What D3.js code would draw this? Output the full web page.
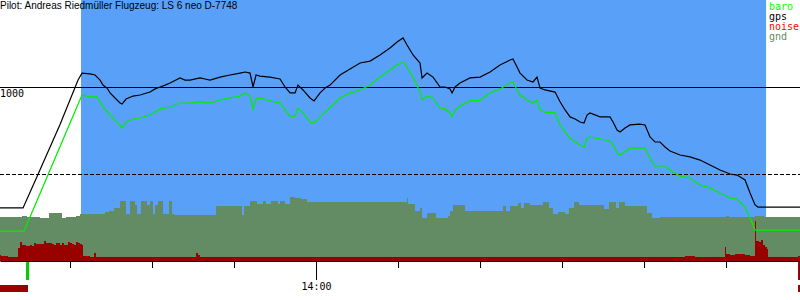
<!DOCTYPE html>
<html>
<head>
<meta charset="utf-8">
<script src="https://cdn.jsdelivr.net/npm/d3@7"></script>
<style>
  html, body {margin:0; padding:0; background:#fff;}
  svg {display:block;}
  .mono {font-family:'DejaVu Sans Mono', monospace;}
</style>
</head>
<body>
<svg id="wrapper" width="800" height="300"></svg>
<script>
// times are minutes after 13:00, altitudes in metres
const timeDomain = [21.46, 119.02];
const flightWindow = [31.34, 114.88];
const takeoffMark = 24.82;
const redMarks = [[21.46, 24.88], [118.78, 119.02]];
const title = 'Pilot: Andreas Riedmüller Flugzeug: LS 6 neo D-7748';
const legendLabels = ['baro', 'gps', 'noise', 'gnd'];
const refLines = [1000, 500];

const gps = [
  [21.46,305],[24.27,305],[25.98,485],[28.78,785],[30.98,1040],[31.46,1080],[32.44,1075],[33.05,1069],
  [33.66,1040],[34.02,1011],[34.51,994],[34.88,966],[35.49,937],[36.10,908],[36.34,902],[36.83,931],
  [37.68,948],[38.54,954],[39.76,971],[40.37,989],[40.98,1000],[41.59,1011],[42.20,1023],[43.41,1052],
  [44.02,1040],[44.63,1040],[45.85,1052],[46.46,1046],[47.07,1040],[48.29,1057],[49.51,1069],[50.73,1080],
  [51.34,1086],[51.95,1080],[52.32,1000],[52.68,1069],[53.17,1063],[54.39,1057],[55.61,1046],[56.22,1000],
  [56.83,966],[57.44,966],[57.80,1011],[58.41,983],[59.27,937],[59.76,920],[60.49,966],[61.10,994],
  [61.71,1011],[62.93,1069],[64.15,1103],[65.37,1138],[66.59,1149],[67.80,1184],[69.02,1224],[69.88,1259],
  [70.61,1282],[71.10,1241],[71.83,1184],[72.68,1138],[72.93,1052],[73.54,1080],[74.27,1057],[75.12,1000],
  [75.73,1000],[76.34,989],[76.59,966],[76.95,1000],[77.56,1023],[78.78,1052],[80.00,1057],[81.22,1086],
  [82.44,1126],[83.66,1155],[84.02,1161],[84.51,1115],[84.88,1080],[85.73,1040],[86.46,1029],[86.95,1057],
  [87.32,994],[87.93,983],[89.15,971],[89.76,915],[90.37,868],[90.98,828],[91.59,816],[92.20,799],
  [92.68,793],[93.05,839],[93.41,851],[94.63,828],[95.85,828],[96.22,799],[96.71,753],[97.07,741],
  [97.68,764],[98.29,782],[99.51,787],[100.12,782],[100.73,713],[101.34,684],[101.95,684],[102.56,655],
  [103.17,632],[104.39,609],[105.61,598],[106.83,580],[108.05,552],[109.27,523],[110.49,500],[111.34,494],
  [112.32,466],[112.93,391],[113.54,322],[113.90,310],[115.37,310],[119.02,310]
];

const baro = [
  [21.46,172],[24.39,172],[31.46,954],[32.44,943],[33.29,943],[33.66,914],[34.02,885],[34.88,839],
  [35.49,810],[36.10,782],[36.34,764],[36.83,799],[37.68,816],[38.54,822],[39.76,839],[40.98,874],
  [42.20,885],[43.41,908],[44.63,908],[45.85,914],[47.07,908],[48.29,925],[49.51,937],[50.73,948],
  [51.34,966],[51.95,948],[52.32,874],[52.68,931],[53.17,937],[54.39,920],[55.61,908],[56.22,868],
  [56.83,833],[57.44,833],[57.80,879],[58.41,851],[59.27,799],[59.76,793],[60.49,828],[61.10,856],
  [61.71,882],[62.93,937],[64.15,966],[65.37,983],[66.59,1011],[67.80,1057],[69.02,1098],[69.88,1126],
  [70.61,1144],[71.10,1115],[71.83,1057],[72.68,971],[72.93,925],[73.54,948],[74.27,937],[75.12,879],
  [75.73,874],[76.34,851],[76.59,828],[76.95,868],[77.56,891],[78.78,920],[80.00,925],[81.22,966],
  [82.44,989],[83.66,1023],[84.02,1029],[84.51,983],[84.88,954],[85.73,925],[86.46,908],[86.95,925],
  [87.32,868],[87.93,856],[89.15,851],[89.76,782],[90.37,741],[90.98,707],[91.59,684],[92.20,667],
  [92.68,655],[93.05,707],[93.41,713],[94.63,701],[95.85,690],[96.22,667],[96.71,621],[97.07,609],
  [97.68,626],[98.29,649],[99.51,649],[100.12,649],[100.73,592],[101.34,546],[101.95,546],[102.56,546],
  [103.17,523],[104.39,488],[105.61,477],[106.83,437],[108.05,420],[109.27,391],[110.49,362],[111.34,356],
  [112.32,310],[112.93,247],[113.54,178],[119.02,178]
];

// ground elevation, each value holds until the next time
const gnd = [
  [21.46,254],[24.15,260],[24.76,253],[26.34,247],[27.44,276],[29.02,247],[29.51,253],[30.73,259],
  [31.22,270],[34.27,282],[34.76,287],[35.37,305],[36.10,345],[36.83,270],[37.32,345],[37.93,322],
  [38.17,270],[38.66,345],[39.39,322],[39.76,345],[40.12,270],[40.37,322],[40.73,345],[41.34,270],
  [42.07,345],[42.44,270],[42.68,264],[47.80,316],[50.98,264],[51.22,316],[51.95,345],[52.80,328],
  [53.54,345],[53.90,328],[54.51,345],[55.37,328],[55.61,345],[56.22,328],[56.83,368],[57.44,362],
  [58.17,356],[58.90,339],[71.10,362],[71.22,328],[72.07,287],[72.68,305],[72.93,247],[73.54,276],
  [74.63,247],[76.10,259],[76.34,287],[76.71,322],[78.17,287],[82.80,316],[83.17,287],[83.66,316],
  [84.63,333],[85.00,305],[85.37,333],[86.10,322],[87.68,339],[88.41,305],[88.90,270],[89.51,282],
  [90.37,270],[90.85,305],[91.46,339],[92.07,322],[95.12,299],[95.73,339],[96.59,305],[96.95,339],
  [97.68,316],[100.37,276],[100.98,247],[101.95,255],[110.00,259],[110.37,253],[113.54,259],[114.63,253],
  [119.02,253]
];

// engine noise level (0..100), each value holds until the next time
const noise = [
  [21.46,13],[21.58,10],[22.44,8],[23.66,26],[23.90,39],[24.15,32],[24.39,32],[24.63,30],[24.88,30],
  [25.12,32],[25.37,30],[25.61,37],[25.85,35],[26.10,35],[26.34,35],[26.59,34],[26.83,41],[27.07,37],
  [27.32,37],[27.56,37],[27.80,35],[28.05,32],[28.29,37],[28.54,37],[28.78,32],[29.02,37],[29.27,33],
  [29.51,32],[29.76,39],[30.00,37],[30.24,35],[30.49,33],[30.73,39],[30.98,37],[31.22,35],[31.46,32],
  [31.59,10],[32.44,8],[32.93,17],[33.17,8],[45.37,17],[45.61,12],[45.85,8],[104.99,11],[106.22,8],
  [109.88,29],[110.00,15],[110.49,13],[111.10,15],[111.71,14],[112.32,12],[112.93,10],[113.54,80],
  [113.66,40],[114.02,38],[114.27,42],[114.51,32],[114.76,28],[115.00,25],[115.12,8],[118.78,10],
  [119.02,10]
];

const width = 800, height = 300;
const axisY = 261;
const t0 = new Date(2019, 5, 15, 13, 0, 0);
function at(m) { return new Date(+t0 + m * 60000); }

let svg = d3.select('#wrapper');

// set ranges
let x = d3.scaleTime().domain(timeDomain.map(at)).range([0, width]);
let y = d3.scaleLinear().domain([0, 1500]).range([axisY, 0]);
let yNoise = d3.scaleLinear().domain([0, 100]).range([axisY, axisY - 50]);

// flight period background
svg.append('rect')
  .attr('x', x(at(flightWindow[0])))
  .attr('y', 0)
  .attr('width', x(at(flightWindow[1])) - x(at(flightWindow[0])))
  .attr('height', axisY)
  .attr('fill', '#59a0f9');

// reference altitude lines
svg.append('line')
  .attr('x1', 0).attr('x2', width)
  .attr('y1', Math.round(y(refLines[0])) + 0.5).attr('y2', Math.round(y(refLines[0])) + 0.5)
  .attr('stroke', '#000');
svg.append('line')
  .attr('x1', 0).attr('x2', width)
  .attr('y1', Math.round(y(refLines[1])) + 0.5).attr('y2', Math.round(y(refLines[1])) + 0.5)
  .attr('stroke', '#000')
  .attr('stroke-dasharray', '4,2');

// ground area
let gndArea = d3.area()
  .curve(d3.curveStepAfter)
  .x(function(d) {return x(at(d[0]));})
  .y0(axisY)
  .y1(function(d) {return y(d[1]);});
svg.append('path')
  .datum(gnd)
  .attr('d', gndArea)
  .attr('fill', '#648c64')
  .attr('shape-rendering', 'crispEdges');

// noise area
let noiseArea = d3.area()
  .curve(d3.curveStepAfter)
  .x(function(d) {return x(at(d[0]));})
  .y0(axisY)
  .y1(function(d) {return yNoise(d[1]);});
svg.append('path')
  .datum(noise)
  .attr('d', noiseArea)
  .attr('fill', '#990000')
  .attr('shape-rendering', 'crispEdges');

// baro and gps lines
let altLine = d3.line()
  .x(function(d) {return x(at(d[0]));})
  .y(function(d) {return y(d[1]);});
svg.append('path')
  .datum(baro)
  .attr('d', altLine)
  .attr('fill', 'none')
  .attr('stroke', '#00ee00')
  .attr('stroke-width', 1.2);
svg.append('path')
  .datum(gps)
  .attr('d', altLine)
  .attr('fill', 'none')
  .attr('stroke', '#000')
  .attr('stroke-width', 1.2);

// draw x-axis
let xAxis = svg.append('g')
  .attr('transform', 'translate(0,' + axisY + ')')
  .call(d3.axisBottom(x)
    .ticks(d3.timeMinute.every(10))
    .tickSize(7)
    .tickSizeOuter(0)
    .tickFormat(''));
xAxis.select('.domain').attr('stroke', '#000');
xAxis.selectAll('.tick line').attr('stroke', '#000');
xAxis.selectAll('.tick')
  .filter(function(d) {return d.getMinutes() === 0;})
  .each(function(d) {
    let t = d3.select(this);
    t.select('line').attr('y2', 19);
    t.select('text')
      .attr('class', 'mono')
      .attr('y', 29)
      .attr('dy', 0)
      .attr('fill', '#000')
      .style('font-size', '10px')
      .text(d3.timeFormat('%H:%M')(d));
  });

// takeoff / engine markers below the axis
svg.append('rect')
  .attr('x', x(at(takeoffMark)) - 1.5)
  .attr('y', axisY + 1)
  .attr('width', 3)
  .attr('height', 18)
  .attr('fill', '#00cc00');
svg.append('rect')
  .attr('x', x(at(redMarks[1][0])))
  .attr('y', axisY + 1)
  .attr('width', x(at(redMarks[1][1])) - x(at(redMarks[1][0])))
  .attr('height', 18)
  .attr('fill', '#990000');
svg.selectAll('.redbar')
  .data(redMarks)
  .enter().append('rect')
  .attr('class', 'redbar')
  .attr('x', function(d) {return x(at(d[0]));})
  .attr('y', 285)
  .attr('width', function(d) {return x(at(d[1])) - x(at(d[0]));})
  .attr('height', 7)
  .attr('fill', '#990000');

// y label
svg.append('text')
  .attr('class', 'mono')
  .attr('x', 0)
  .attr('y', Math.round(y(refLines[0])) + 10)
  .style('font-size', '10px')
  .text(String(refLines[0]));

// title
svg.append('text')
  .attr('x', 0)
  .attr('y', 9)
  .style('font-family', 'Liberation Sans, Arial, sans-serif')
  .style('font-size', '10px')
  .text(title);

// draw legend
const legendColors = ['#00ff00', '#000000', '#ff0000', '#648c64'];
svg.append('g')
  .attr('class', 'mono')
  .style('font-size', '10px')
  .selectAll('text')
  .data(legendLabels)
  .enter().append('text')
  .attr('x', 769)
  .attr('y', function(d, i) {return 10 + i * 10;})
  .attr('fill', function(d, i) {return legendColors[i];})
  .text(function(d) {return d;});
</script>
</body>
</html>
